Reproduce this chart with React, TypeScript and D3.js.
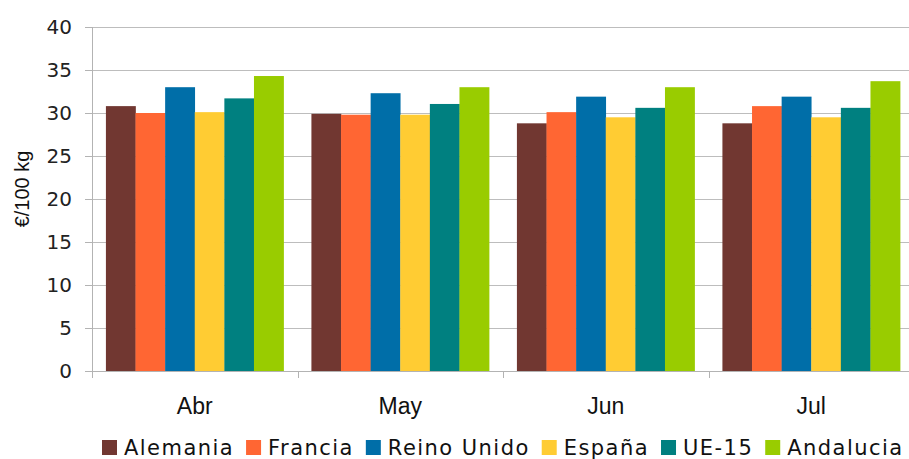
import React, { useEffect, useRef } from "react";
import * as d3 from "d3";

const categories = ["Abr", "May", "Jun", "Jul"];
const seriesNames = ["Alemania", "Francia", "Reino Unido", "España", "UE-15", "Andalucia"];
const alemania = [30.8, 29.9, 28.8, 28.8];
const francia = [30.0, 29.8, 30.1, 30.8];
const reinoUnido = [33.0, 32.3, 31.9, 31.9];
const espana = [30.1, 29.8, 29.5, 29.5];
const ue15 = [31.7, 31.05, 30.6, 30.6];
const andalucia = [34.3, 33.0, 33.0, 33.7];
const seriesValues = [alemania, francia, reinoUnido, espana, ue15, andalucia];
const seriesColors = ["#713731", "#FF6633", "#006EA8", "#FFCC33", "#008080", "#99CC00"];
const yTicks = [0, 5, 10, 15, 20, 25, 30, 35, 40];
const yLabel = "€/100 kg";

const W = 909;
const H = 459;

export default function App() {
  const ref = useRef<SVGSVGElement>(null);
  useEffect(() => {
    document.body.style.margin = "0";
    const svg = d3.select(ref.current);
    svg.selectAll("*").remove();

    const left = 92, right = 914, top = 27, bottom = 371;
    const x = d3.scaleBand<string>().domain(categories).range([left, right]).paddingInner(0).paddingOuter(0);
    const x1 = d3.scaleBand<string>().domain(seriesNames).range([0, x.bandwidth()]).paddingInner(0).paddingOuter(0.47);
    const y = d3.scaleLinear().domain([0, 40]).range([bottom, top]);

    // gridlines
    svg.append("g").selectAll("line").data(yTicks.filter(t => t > 0)).join("line")
      .attr("x1", left).attr("x2", W)
      .attr("y1", d => Math.round(y(d)) + 0.5).attr("y2", d => Math.round(y(d)) + 0.5)
      .attr("stroke", "#bdbdbd").attr("stroke-width", 1);

    // bars
    const g = svg.append("g");
    seriesNames.forEach((s, si) => {
      g.append("g").selectAll("rect").data(seriesValues[si]).join("rect")
        .attr("x", (d, i) => x(categories[i])! + x1(s)!)
        .attr("width", x1.bandwidth() + 0.3)
        .attr("y", d => y(d))
        .attr("height", d => y(0) - y(d))
        .attr("fill", seriesColors[si]);
    });

    // y axis
    const axisColor = "#b3b3b3";
    svg.append("line").attr("x1", left + 0.5).attr("x2", left + 0.5).attr("y1", top).attr("y2", bottom + 4)
      .attr("stroke", axisColor);
    svg.append("g").selectAll("line").data(yTicks).join("line")
      .attr("x1", left - 7).attr("x2", left)
      .attr("y1", d => Math.round(y(d)) + 0.5).attr("y2", d => Math.round(y(d)) + 0.5)
      .attr("stroke", axisColor);
    svg.append("g").selectAll("text").data(yTicks).join("text")
      .attr("x", left - 20).attr("y", d => y(d)).attr("dy", "0.36em")
      .attr("text-anchor", "end")
      .attr("font-family", "DejaVu Sans, sans-serif").attr("font-size", 20)
      .attr("fill", "#222").text(d => String(d));

    // x axis
    svg.append("line").attr("x1", left).attr("x2", W).attr("y1", bottom + 0.5).attr("y2", bottom + 0.5)
      .attr("stroke", axisColor);
    const boundaries = categories.map(c => x(c)!).concat([right]);
    svg.append("g").selectAll("line").data(boundaries).join("line")
      .attr("x1", d => Math.round(d) + 0.5).attr("x2", d => Math.round(d) + 0.5)
      .attr("y1", bottom).attr("y2", bottom + 7).attr("stroke", axisColor);
    svg.append("g").selectAll("text").data(categories).join("text")
      .attr("x", d => x(d)! + x.bandwidth() / 2).attr("y", 414)
      .attr("text-anchor", "middle")
      .attr("font-family", "Liberation Sans, Arial, sans-serif").attr("font-size", 23)
      .attr("fill", "#111").text(d => d);

    // y label
    svg.append("text").attr("transform", `translate(29,${(top + bottom) / 2 - 10}) rotate(-90)`)
      .attr("text-anchor", "middle")
      .attr("font-family", "Liberation Sans, Arial, sans-serif").attr("font-size", 20)
      .attr("fill", "#111").text(yLabel);

    // legend
    const lg = svg.append("g");
    let cx = 102;
    seriesNames.forEach((s, i) => {
      const ig = lg.append("g").attr("transform", `translate(${cx},0)`);
      ig.append("rect").attr("x", 0).attr("y", 440).attr("width", 15).attr("height", 15).attr("fill", seriesColors[i]);
      const t = ig.append("text").attr("x", 22).attr("y", 455)
        .attr("font-family", "DejaVu Sans, sans-serif").attr("font-size", 21)
        .attr("letter-spacing", 1.45)
        .attr("fill", "#111").text(s);
      const w = 22 + (t.node() as SVGTextElement).getComputedTextLength();
      cx += w + 12;
    });
  }, []);
  return <svg ref={ref} width={W} height={H} style={{ display: "block", background: "#fff" }} />;
}
